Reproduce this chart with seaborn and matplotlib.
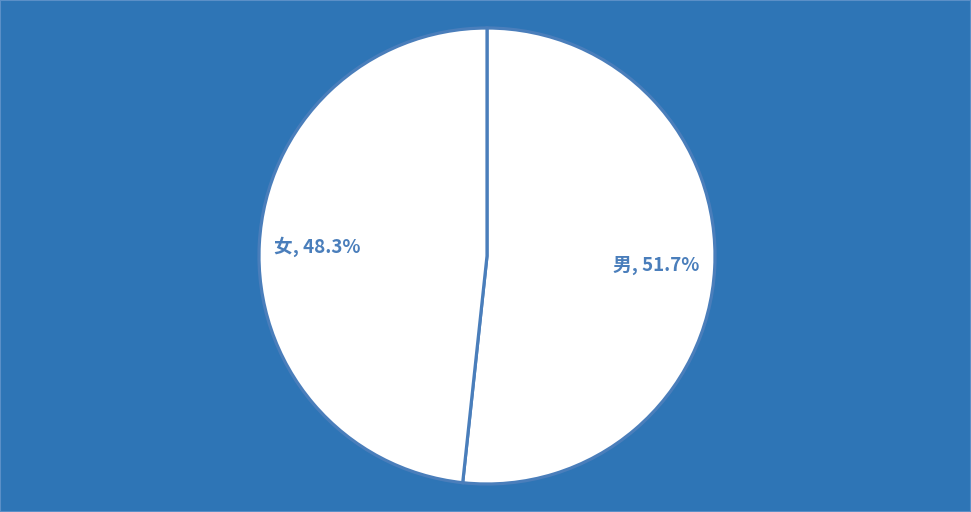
import matplotlib
matplotlib.use("Agg")
import matplotlib.pyplot as plt
import seaborn as sns

# data
genders = ["男", "女"]
shares = [51.7, 48.3]

sns.set_theme(style="white")
plt.rcParams['font.family'] = ['Noto Sans CJK SC', 'DejaVu Sans']

bg = "#2E75B6"
edge = "#4A7EBB"

fig = plt.figure(figsize=(9.71, 5.12), dpi=100, facecolor=bg)
# square axes around the pie (pixel box 259..715 x 28..484)
ax = fig.add_axes([259 / 971, 28 / 512, 456 / 971, 456 / 512])
ax.set_facecolor(bg)

labels = [f"{g}, {v:.1f}%" for g, v in zip(genders, shares)]
wedges, texts = ax.pie(shares, labels=labels, startangle=90, counterclock=False,
                       colors=["white", "white"], labeldistance=0.745,
                       wedgeprops=dict(edgecolor=edge, linewidth=2.3),
                       textprops=dict(color=edge, fontsize=13.5, fontweight="bold"))
for t in texts:
    t.set_horizontalalignment("center")
    t.set_verticalalignment("center")
ax.set_xlim(-1.0, 1.0)
ax.set_ylim(-1.0, 1.0)
ax.axis("off")

# thin frame round the whole chart
fig.patches.append(plt.Rectangle((0, 0), 1, 1, transform=fig.transFigure,
                                 fill=False, edgecolor="#5B8FC7", linewidth=1.5))

fig.savefig("out.png", dpi=100, facecolor=bg)
